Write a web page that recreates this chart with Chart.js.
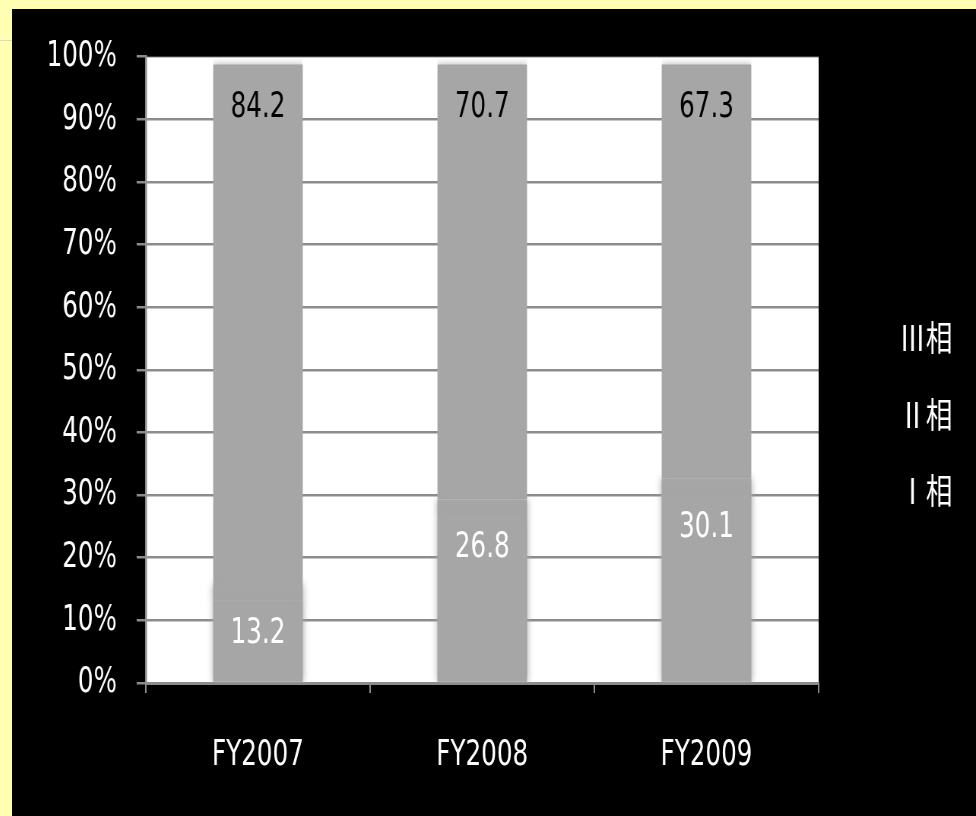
<!DOCTYPE html>
<html>
<head>
<meta charset="utf-8">
<script src="https://cdn.jsdelivr.net/npm/chart.js@4"></script>
<style>
  html, body { margin: 0; padding: 0; }
  body { width: 976px; height: 816px; background: #ffffb3; position: relative; overflow: hidden; }
  #rule { position: absolute; left: 0; top: 40px; width: 12px; height: 1px; background: #dcdcb0; }
  #panel { position: absolute; left: 12px; top: 9px; width: 964px; height: 807px; background: #000; }
  /* drawn wider, then squeezed into the panel for the narrow lettering */
  #phaseChart { display: block; width: 964px; height: 807px; }
</style>
</head>
<body>
<div id="rule"></div>
<div id="panel"><canvas id="phaseChart" width="1268" height="807" style="width:964px;height:807px"></canvas></div>
<script>
const years = ['FY2007', 'FY2008', 'FY2009'];
const phase1 = [13.2, 26.8, 30.1];
const phase2 = [2.6, 2.5, 2.6];
const phase3 = [84.2, 70.7, 67.3];
const seriesNames = ['Ⅰ相', 'Ⅱ相', 'Ⅲ相'];
const labelled = [true, false, true];
const labelColors = ['#ffffff', '#ffffff', '#000000'];

const FONT = "'DejaVu Sans Condensed', 'DejaVu Sans', sans-serif";
const CJK = "'Noto Sans CJK JP', 'Noto Sans CJK SC', sans-serif";
const BAR = '#a6a6a6';
const AXIS = '#8c8c8c';

// white plot area behind the bars
const plotBg = {
  id: 'plotBg',
  beforeDraw(chart) {
    const { ctx, chartArea: a } = chart;
    ctx.save();
    ctx.fillStyle = '#ffffff';
    ctx.fillRect(a.left, a.top, a.right - a.left, a.bottom - a.top);
    ctx.restore();
  }
};

// soft edges on the bars (same-colour glow, so stacked segments stay seamless)
const softBars = {
  id: 'softBars',
  beforeDatasetsDraw(chart) {
    const ctx = chart.ctx;
    ctx.save();
    ctx.shadowColor = BAR;
    ctx.shadowBlur = 8;
  },
  afterDatasetsDraw(chart) {
    chart.ctx.restore();
  }
};

// value labels inside the top of each segment
const valueLabels = {
  id: 'valueLabels',
  afterDraw(chart) {
    const ctx = chart.ctx;
    ctx.save();
    ctx.font = '36px ' + FONT;
    ctx.textAlign = 'center';
    ctx.textBaseline = 'middle';
    chart.data.datasets.forEach((ds, i) => {
      if (!labelled[i]) return;
      const offset = i === 2 ? 51 : 33;
      chart.getDatasetMeta(i).data.forEach((bar, j) => {
        ctx.fillStyle = labelColors[i];
        ctx.fillText(ds.data[j].toFixed(1), bar.x, bar.y + offset);
      });
    });
    ctx.restore();
  }
};

// legend on the right, top series first
const sideLegend = {
  id: 'sideLegend',
  afterDraw(chart) {
    const ctx = chart.ctx;
    ctx.save();
    ctx.font = '35px ' + CJK;
    ctx.fillStyle = '#ffffff';
    ctx.textAlign = 'right';
    ctx.textBaseline = 'middle';
    const names = chart.data.datasets.map(d => d.label).reverse();
    names.forEach((n, k) => ctx.fillText(n, 1237, 329 + k * 76.5));
    ctx.restore();
  }
};

const datasets = [phase1, phase2, phase3].map((vals, i) => ({
  label: seriesNames[i],
  data: vals,
  backgroundColor: BAR,
  borderColor: 'rgba(0,0,0,0)',
  borderWidth: i === 2 ? { top: 8, left: 0, right: 0, bottom: 0 } : 0,
  borderSkipped: false,
  barPercentage: 0.4,
  categoryPercentage: 1,
  clip: 0
}));

new Chart(document.getElementById('phaseChart'), {
  type: 'bar',
  data: { labels: years, datasets: datasets },
  options: {
    responsive: false,
    animation: false,
    layout: { padding: { top: 47, right: 207, left: 0, bottom: 0 } },
    plugins: {
      legend: { display: false },
      tooltip: { enabled: false }
    },
    scales: {
      x: {
        stacked: true,
        z: 1,
        afterFit: s => { s.height = 133; },
        border: { display: true, color: AXIS, width: 3 },
        grid: {
          drawOnChartArea: false,
          drawTicks: true,
          tickLength: 10,
          color: AXIS,
          tickColor: AXIS,
          lineWidth: 2
        },
        ticks: { color: '#ffffff', font: { family: FONT, size: 36 }, padding: 41 }
      },
      y: {
        stacked: true,
        z: 1,
        min: 0,
        max: 100,
        afterFit: s => { s.width = 176; },
        border: { display: true, color: AXIS, width: 2.5 },
        grid: {
          color: 'rgba(0,0,0,0.45)',
          tickColor: AXIS,
          lineWidth: 2.5,
          tickLength: 12
        },
        ticks: {
          stepSize: 10,
          color: '#ffffff',
          font: { family: FONT, size: 36 },
          padding: 26,
          callback: v => v + '%'
        }
      }
    }
  },
  plugins: [plotBg, softBars, valueLabels, sideLegend]
});
</script>
</body>
</html>
